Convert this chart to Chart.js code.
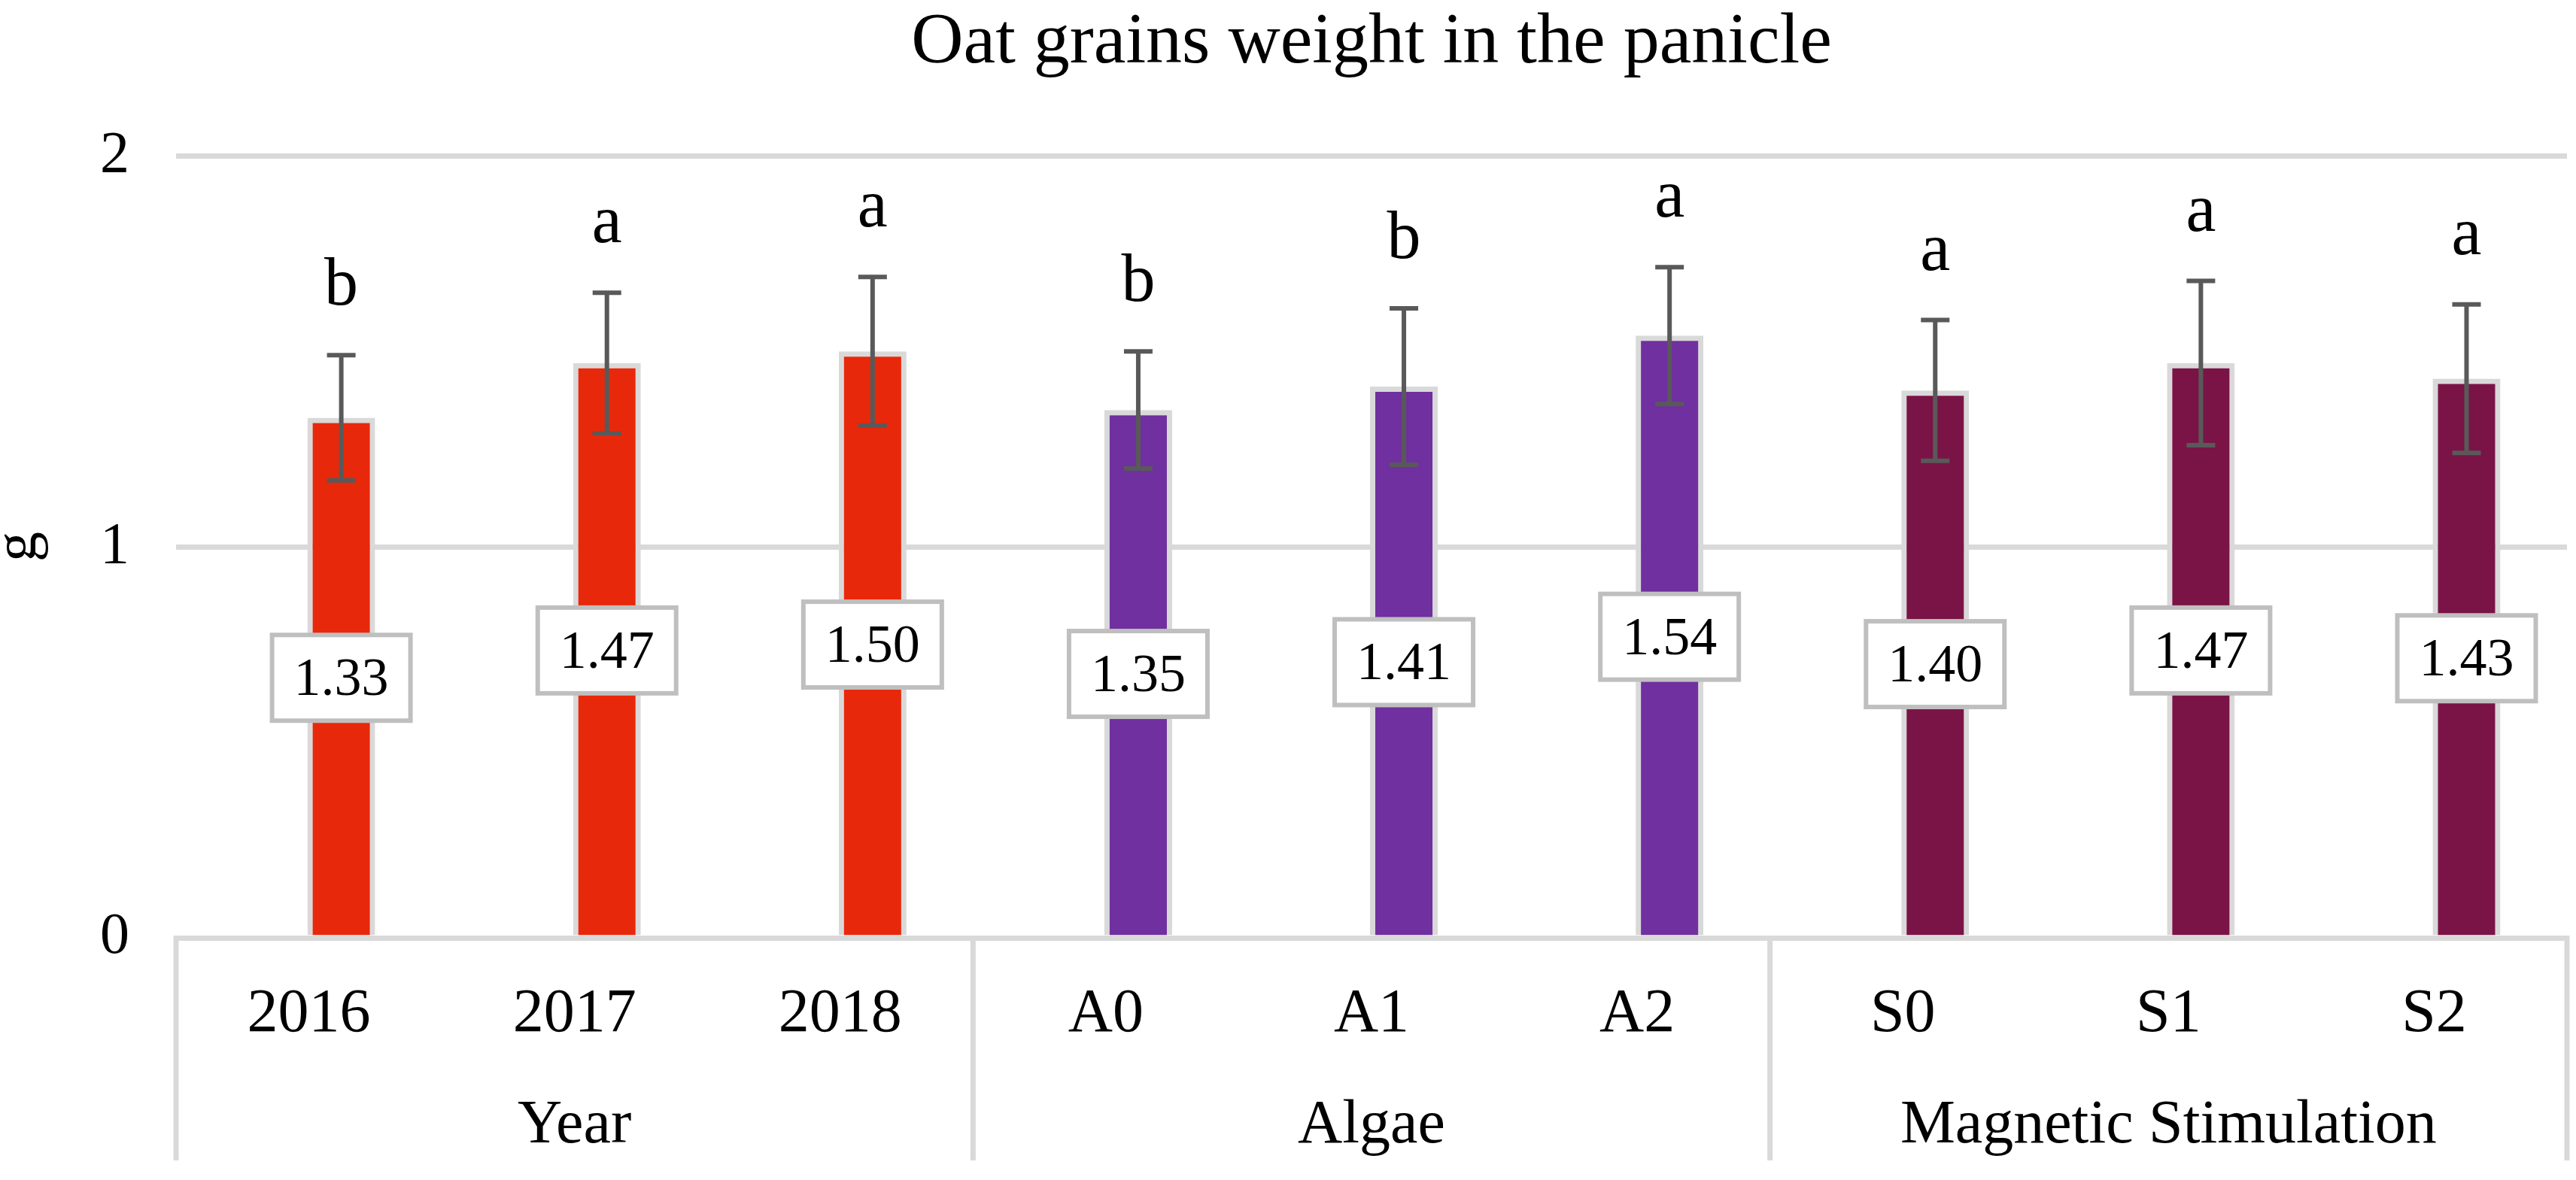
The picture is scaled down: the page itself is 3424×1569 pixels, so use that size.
<!DOCTYPE html>
<html>
<head>
<meta charset="utf-8">
<title>Oat grains weight in the panicle</title>
<script src="https://cdn.jsdelivr.net/npm/chart.js@4.4.0/dist/chart.umd.min.js"></script>
<style>
  html, body { margin: 0; padding: 0; background: #fff; }
  #cadre { width: 3424px; height: 1569px; }
</style>
</head>
<body>
<div id="cadre"><canvas id="graphique" width="3424" height="1569"></canvas></div>
<script>
// données
const categories = ['2016', '2017', '2018', 'A0', 'A1', 'A2', 'S0', 'S1', 'S2'];
const groupes = ['Year', 'Algae', 'Magnetic Stimulation'];
const taillesGroupes = [3, 3, 3];
const moyennes = [1.33, 1.47, 1.50, 1.35, 1.41, 1.54, 1.40, 1.47, 1.43];
const erreurs = [0.16, 0.18, 0.19, 0.15, 0.20, 0.175, 0.18, 0.21, 0.19];
const lettres = ['b', 'a', 'a', 'b', 'b', 'a', 'a', 'a', 'a'];
const couleursGroupes = ['#E8280A', '#7030A0', '#7A1446'];
const ticksY = [0, 1, 2];

const POLICE = "'Liberation Serif', 'Times New Roman', serif";

// une couleur par barre selon son groupe
const couleursBarres = [];
taillesGroupes.forEach((n, k) => {
    for (let i = 0; i < n; i++) couleursBarres.push(couleursGroupes[k]);
});

// barres d'erreur, lettres et étiquettes encadrées
const annotations = {
    id: 'annotations',
    afterDatasetsDraw(chart) {
        const ctx = chart.ctx;
        const y = chart.scales.y;
        const meta = chart.getDatasetMeta(1);
        ctx.save();
        meta.data.forEach((barre, i) => {
            const haut = y.getPixelForValue(moyennes[i] + erreurs[i]);
            const bas = y.getPixelForValue(moyennes[i] - erreurs[i]);
            ctx.strokeStyle = '#595959';
            ctx.lineWidth = 6;
            ctx.beginPath();
            ctx.moveTo(barre.x, haut);
            ctx.lineTo(barre.x, bas);
            ctx.moveTo(barre.x - 19, haut);
            ctx.lineTo(barre.x + 19, haut);
            ctx.moveTo(barre.x - 19, bas);
            ctx.lineTo(barre.x + 19, bas);
            ctx.stroke();

            ctx.fillStyle = '#000';
            ctx.textAlign = 'center';
            ctx.textBaseline = 'alphabetic';
            ctx.font = '90px ' + POLICE;
            ctx.fillText(lettres[i], barre.x, haut - 67);

            const milieu = (y.getPixelForValue(moyennes[i]) + y.getPixelForValue(0)) / 2;
            const texte = moyennes[i].toFixed(2);
            ctx.font = '72px ' + POLICE;
            const w = ctx.measureText(texte).width + 58;
            const h = 114;
            ctx.fillStyle = '#fff';
            ctx.fillRect(barre.x - w / 2, milieu - h / 2, w, h);
            ctx.strokeStyle = '#bfbfbf';
            ctx.lineWidth = 6;
            ctx.strokeRect(barre.x - w / 2, milieu - h / 2, w, h);
            ctx.fillStyle = '#000';
            ctx.textBaseline = 'middle';
            ctx.fillText(texte, barre.x, milieu + 4);
        });
        ctx.restore();
    }
};

// axe des catégories à deux niveaux
const axeDeuxNiveaux = {
    id: 'axeDeuxNiveaux',
    afterDraw(chart) {
        const ctx = chart.ctx;
        const x = chart.scales.x;
        const y = chart.scales.y;
        const y0 = y.getPixelForValue(0);
        const pas = x.getPixelForValue(1) - x.getPixelForValue(0);
        ctx.save();
        ctx.fillStyle = '#000';
        ctx.textAlign = 'center';
        ctx.textBaseline = 'alphabetic';
        ctx.font = '82px ' + POLICE;
        categories.forEach((c, i) => ctx.fillText(c, x.getPixelForValue(i), y0 + 124));

        const bords = [];
        let debut = 0;
        groupes.forEach((g, k) => {
            const fin = debut + taillesGroupes[k] - 1;
            const gauche = x.getPixelForValue(debut) - pas / 2;
            const droite = x.getPixelForValue(fin) + pas / 2;
            ctx.fillText(g, (gauche + droite) / 2, y0 + 272);
            bords.push(gauche);
            if (k === groupes.length - 1) bords.push(droite);
            debut = fin + 1;
        });
        ctx.strokeStyle = '#d9d9d9';
        ctx.lineWidth = 7;
        bords.forEach(b => {
            ctx.beginPath();
            ctx.moveTo(b, y0 - 3);
            ctx.lineTo(b, y0 + 296);
            ctx.stroke();
        });
        ctx.restore();
    }
};

new Chart(document.getElementById('graphique'), {
    type: 'bar',
    data: {
        labels: categories,
        datasets: [
            {
                // série vide : décale les barres comme dans le graphique Excel
                label: '',
                data: categories.map(() => null)
            },
            {
                label: 'Oat grains weight',
                data: moyennes,
                backgroundColor: couleursBarres,
                borderColor: '#d9d9d9',
                borderWidth: 7,
                borderSkipped: 'start'
            }
        ]
    },
    options: {
        responsive: false,
        devicePixelRatio: 1,
        animation: false,
        categoryPercentage: 0.4877,
        barPercentage: 1.046,
        layout: { padding: { left: 0, right: 12, top: 0, bottom: 322 } },
        plugins: {
            legend: { display: false },
            tooltip: { enabled: false },
            title: {
                display: true,
                fullSize: false,
                text: 'Oat grains weight in the panicle',
                color: '#000',
                font: { family: POLICE, size: 96, weight: 'normal' },
                padding: { top: 0, bottom: 92 }
            }
        },
        scales: {
            x: { display: false },
            y: {
                min: 0,
                max: 2,
                afterBuildTicks(scale) {
                    scale.ticks = ticksY.map(v => ({ value: v }));
                },
                afterFit(scale) {
                    scale.width = 234;
                },
                ticks: {
                    padding: 62,
                    color: '#000',
                    font: { family: POLICE, size: 78 }
                },
                grid: { color: '#d9d9d9', lineWidth: 7, drawTicks: false },
                border: { display: false },
                title: {
                    display: true,
                    text: 'g',
                    color: '#000',
                    font: { family: POLICE, size: 80, lineHeight: 0.6 },
                    padding: { top: 2, bottom: 0 }
                }
            }
        }
    },
    plugins: [annotations, axeDeuxNiveaux]
});
</script>
</body>
</html>
